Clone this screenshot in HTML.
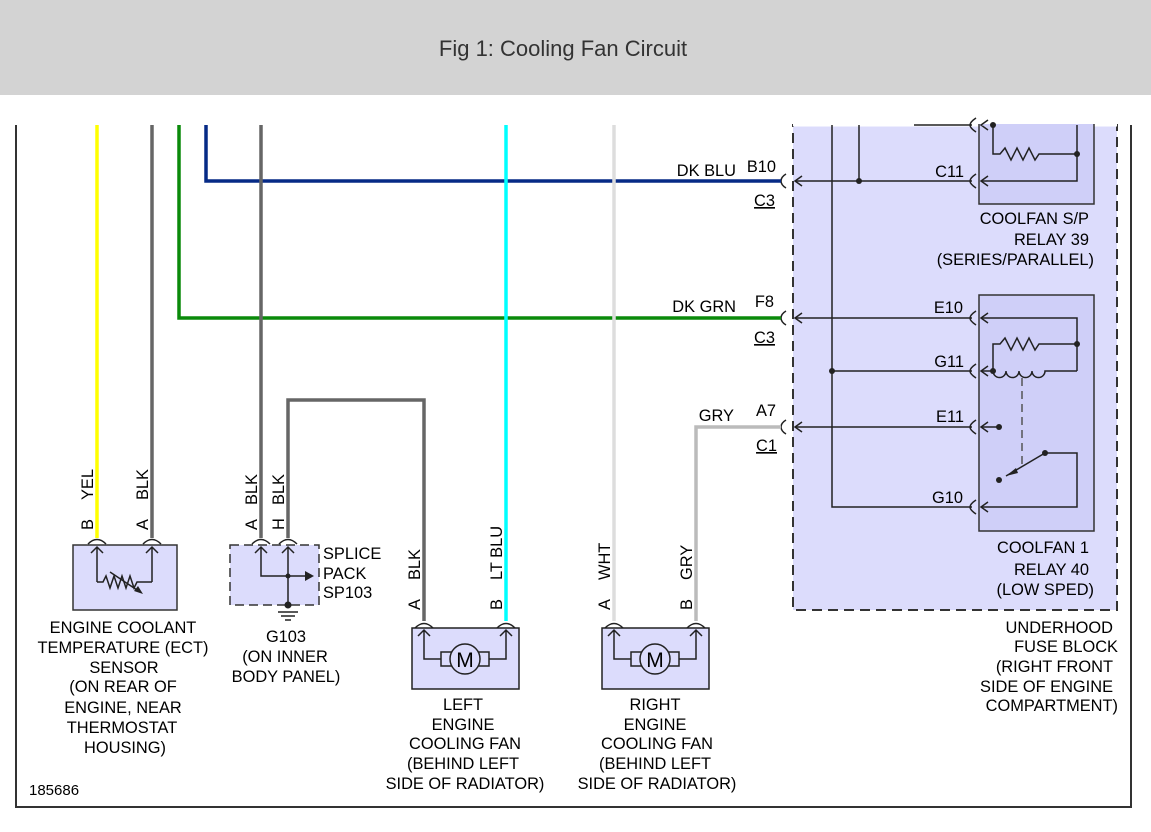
<!DOCTYPE html>
<html><head><meta charset="utf-8"><style>
html,body{margin:0;padding:0;background:#fff;width:1151px;height:832px;overflow:hidden}
svg text{font-family:"Liberation Sans",Arial,sans-serif;font-size:16.4px;fill:#000}
</style></head><body>
<svg width="1151" height="832" viewBox="0 0 1151 832" xmlns="http://www.w3.org/2000/svg">
<rect x="0" y="0" width="1151" height="95" fill="#d3d3d3"/>
<text x="563" y="56" text-anchor="middle" style="font-size:22px;fill:#333">Fig 1: Cooling Fan Circuit</text>

<!-- frame -->
<path d="M16 125 V807 H1131 V125" fill="none" stroke="#333" stroke-width="2"/>

<!-- fuse block -->
<rect x="793" y="125" width="324" height="485" fill="#dcdcfc" stroke="#333" stroke-width="2" stroke-dasharray="10,6"/>
<line x1="793" y1="125" x2="1117" y2="125" stroke="#fff" stroke-width="3"/>
<!-- relay boxes -->
<rect x="979" y="118" width="115" height="86" fill="#cfcff8" stroke="#333" stroke-width="1.5"/>
<rect x="979" y="295" width="115" height="236" fill="#cfcff8" stroke="#333" stroke-width="1.5"/>
<rect x="790" y="100" width="340" height="24" fill="#fff"/>

<g stroke="#222" stroke-width="1.5" fill="none">
<path d="M832 125 V507 H972"/>
<path d="M859 125 V181"/>
<path d="M795 181 H972"/>
<path d="M795 318 H972"/>
<path d="M832 371 H972"/>
<path d="M795 427 H972"/>
<path d="M914 125 H972"/>
<path d="M993 125 V154 H1000 l5 -6 l6 12 l6 -12 l6 12 l6 -12 l6 12 l4 -6 H1077"/>
<path d="M1077 125 V181 H981"/>
<path d="M981 318 H1077 V371"/>
<path d="M993 371 V344 H1000 l5 -6 l6 12 l6 -12 l6 12 l6 -12 l6 12 l4 -6 H1077"/>
<path d="M981 371 H993 a6.5 6.5 0 0 0 13 0 a6.5 6.5 0 0 0 13 0 a6.5 6.5 0 0 0 13 0 a6.5 6.5 0 0 0 13 0 H1077"/>
<path d="M1022 378 V465" stroke-dasharray="8,5" stroke="#555"/>
<path d="M981 427 H999"/>
<path d="M1045 453 L1006 476"/>
<path d="M1045 453 H1077 V507 H981"/>
<path d="M988 120 L981 125 L988 130 M988 176 L981 181 L988 186 M988 313 L981 318 L988 323 M988 366 L981 371 L988 376 M988 422 L981 427 L988 432 M988 502 L981 507 L988 512"/>
<path d="M976 118 q-6 4 -6 7 q0 3 6 7 M976 174 q-6 4 -6 7 q0 3 6 7 M976 311 q-6 4 -6 7 q0 3 6 7 M976 364 q-6 4 -6 7 q0 3 6 7 M976 420 q-6 4 -6 7 q0 3 6 7 M976 500 q-6 4 -6 7 q0 3 6 7" stroke-width="1.5"/>
<path d="M802 176 L795 181 L802 186 M802 313 L795 318 L802 323 M802 422 L795 427 L802 432"/>
<path d="M786 174 q-5 3 -5 7 q0 4 5 7 M786 311 q-5 3 -5 7 q0 4 5 7 M786 420 q-5 3 -5 7 q0 4 5 7"/>
</g>
<polygon points="1006,476 1016,468 1018,473" fill="#222"/>
<g fill="#222">
<circle cx="859" cy="181" r="3"/><circle cx="1077" cy="154" r="3"/><circle cx="993" cy="125" r="3"/>
<circle cx="1077" cy="344" r="3"/><circle cx="993" cy="371" r="3"/><circle cx="832" cy="371" r="3"/>
<circle cx="999" cy="427" r="3"/><circle cx="1045" cy="453" r="3"/><circle cx="999" cy="480" r="3"/>
</g>

<!-- wires -->
<g fill="none" stroke-width="3.5">
<path d="M97 125 V538" stroke="#ffff00"/>
<path d="M152 125 V538" stroke="#666"/>
<path d="M179 125 V318 H781" stroke="#0a8a0a"/>
<path d="M206 125 V181 H781" stroke="#062a86"/>
<path d="M261 125 V538" stroke="#666"/>
<path d="M288 538 V400 H424 V621" stroke="#666"/>
<path d="M506 125 V621" stroke="#00ffff"/>
<path d="M614 125 V621" stroke="#dddddd"/>
<path d="M781 427 H696 V621" stroke="#bbbbbb"/>
</g>

<!-- ECT sensor -->
<rect x="73" y="545" width="104" height="65" fill="#dcdcfc" stroke="#333" stroke-width="1.5"/>
<g stroke="#222" stroke-width="1.5" fill="none">
<path d="M88 544 q9 -9 18 0 M143 544 q9 -9 18 0"/>
<path d="M97 582 V547 M91 553 L97 547 L103 553 M152 582 V547 M146 553 L152 547 L158 553"/>
<path d="M97 582 H103 l3 -6 l4 12 l4 -12 l4 12 l4 -12 l4 12 l4 -12 l4 12 l3 -6 H152"/>
<path d="M110 572 L140 592"/>
</g>
<polygon points="143,594 134,591 138,586" fill="#222"/>
<!-- splice pack -->
<rect x="230" y="545" width="89" height="60" fill="#dcdcfc" stroke="#333" stroke-width="1.5" stroke-dasharray="9,5"/>
<g stroke="#222" stroke-width="1.5" fill="none">
<path d="M252 544 q9 -9 18 0 M279 544 q9 -9 18 0"/>
<path d="M261 547 V576 H306 M255 553 L261 547 L267 553 M288 547 V605 M282 553 L288 547 L294 553"/>
<path d="M278 612 H298 M281 616 H295 M285 620 H291"/>
</g>
<polygon points="314,576 305,571 305,581" fill="#222"/>
<circle cx="288" cy="576" r="2.5" fill="#222"/><circle cx="288" cy="605" r="3.5" fill="#222"/>
<!-- fans -->
<g stroke="#222" stroke-width="1.5">
<rect x="412" y="628" width="107" height="61" fill="#dcdcfc"/>
<rect x="602" y="628" width="107" height="61" fill="#dcdcfc"/>
<g fill="none">
<path d="M415 628 q9 -9 18 0 M497 628 q9 -9 18 0 M605 628 q9 -9 18 0 M687 628 q9 -9 18 0"/>
<path d="M424 630 V659 H441 M418 636 L424 630 L430 636 M506 630 V659 H489 M500 636 L506 630 L512 636"/>
<path d="M614 630 V659 H631 M608 636 L614 630 L620 636 M696 630 V659 H679 M690 636 L696 630 L702 636"/>
<rect x="441" y="652" width="48" height="14" fill="#dcdcfc"/>
<rect x="631" y="652" width="48" height="14" fill="#dcdcfc"/>
</g>
<circle cx="465" cy="659" r="15" fill="#dcdcfc"/>
<circle cx="655" cy="659" r="15" fill="#dcdcfc"/>
</g>
<text x="465" y="667" text-anchor="middle" style="font-size:21px">M</text>
<text x="655" y="667" text-anchor="middle" style="font-size:21px">M</text>

<!-- rotated labels -->
<g>
<text transform="translate(93,530) rotate(-90)">B</text>
<text transform="translate(93,500) rotate(-90)">YEL</text>
<text transform="translate(148,530) rotate(-90)">A</text>
<text transform="translate(148,500) rotate(-90)">BLK</text>
<text transform="translate(257,530) rotate(-90)">A</text>
<text transform="translate(257,505) rotate(-90)">BLK</text>
<text transform="translate(284,530) rotate(-90)">H</text>
<text transform="translate(284,505) rotate(-90)">BLK</text>
<text transform="translate(420,610) rotate(-90)">A</text>
<text transform="translate(420,580) rotate(-90)">BLK</text>
<text transform="translate(502,610) rotate(-90)">B</text>
<text transform="translate(502,580) rotate(-90)">LT BLU</text>
<text transform="translate(610,610) rotate(-90)">A</text>
<text transform="translate(610,580) rotate(-90)">WHT</text>
<text transform="translate(692,610) rotate(-90)">B</text>
<text transform="translate(692,580) rotate(-90)">GRY</text>
</g>

<text x="736" y="176" text-anchor="end">DK BLU</text>
<text x="776" y="172" text-anchor="end">B10</text>
<text x="775" y="206" text-anchor="end" text-decoration="underline">C3</text>
<text x="736" y="312" text-anchor="end">DK GRN</text>
<text x="774" y="307" text-anchor="end">F8</text>
<text x="775" y="343" text-anchor="end" text-decoration="underline">C3</text>
<text x="734" y="421" text-anchor="end">GRY</text>
<text x="776" y="416" text-anchor="end">A7</text>
<text x="777" y="451" text-anchor="end" text-decoration="underline">C1</text>
<text x="964" y="177" text-anchor="end">C11</text>
<text x="963" y="313" text-anchor="end">E10</text>
<text x="964" y="367" text-anchor="end">G11</text>
<text x="964" y="422" text-anchor="end">E11</text>
<text x="963" y="503" text-anchor="end">G10</text>

<text x="1089" y="224" text-anchor="end">COOLFAN S/P</text>
<text x="1089" y="245" text-anchor="end">RELAY 39</text>
<text x="1094" y="265" text-anchor="end">(SERIES/PARALLEL)</text>
<text x="1089" y="553" text-anchor="end">COOLFAN 1</text>
<text x="1089" y="575" text-anchor="end">RELAY 40</text>
<text x="1094" y="595" text-anchor="end">(LOW SPED)</text>
<text x="1113" y="633" text-anchor="end">UNDERHOOD</text>
<text x="1118" y="652" text-anchor="end">FUSE BLOCK</text>
<text x="1113" y="672" text-anchor="end">(RIGHT FRONT</text>
<text x="1113" y="692" text-anchor="end">SIDE OF ENGINE</text>
<text x="1118" y="711" text-anchor="end">COMPARTMENT)</text>

<text x="323" y="559">SPLICE</text>
<text x="323" y="579">PACK</text>
<text x="323" y="598">SP103</text>

<g text-anchor="middle">
<text x="123" y="633">ENGINE COOLANT</text>
<text x="123" y="653">TEMPERATURE (ECT)</text>
<text x="124" y="673">SENSOR</text>
<text x="123" y="692">(ON REAR OF</text>
<text x="123" y="713">ENGINE, NEAR</text>
<text x="122" y="733">THERMOSTAT</text>
<text x="125" y="753">HOUSING)</text>
<text x="286" y="642">G103</text>
<text x="285" y="662">(ON INNER</text>
<text x="286" y="682">BODY PANEL)</text>
<text x="463" y="710">LEFT</text>
<text x="463" y="730">ENGINE</text>
<text x="465" y="749">COOLING FAN</text>
<text x="463" y="769">(BEHIND LEFT</text>
<text x="465" y="789">SIDE OF RADIATOR)</text>
<text x="655" y="710">RIGHT</text>
<text x="655" y="730">ENGINE</text>
<text x="657" y="749">COOLING FAN</text>
<text x="655" y="769">(BEHIND LEFT</text>
<text x="657" y="789">SIDE OF RADIATOR)</text>
</g>
<text x="29" y="795" style="font-size:15px">185686</text>
</svg>
</body></html>
